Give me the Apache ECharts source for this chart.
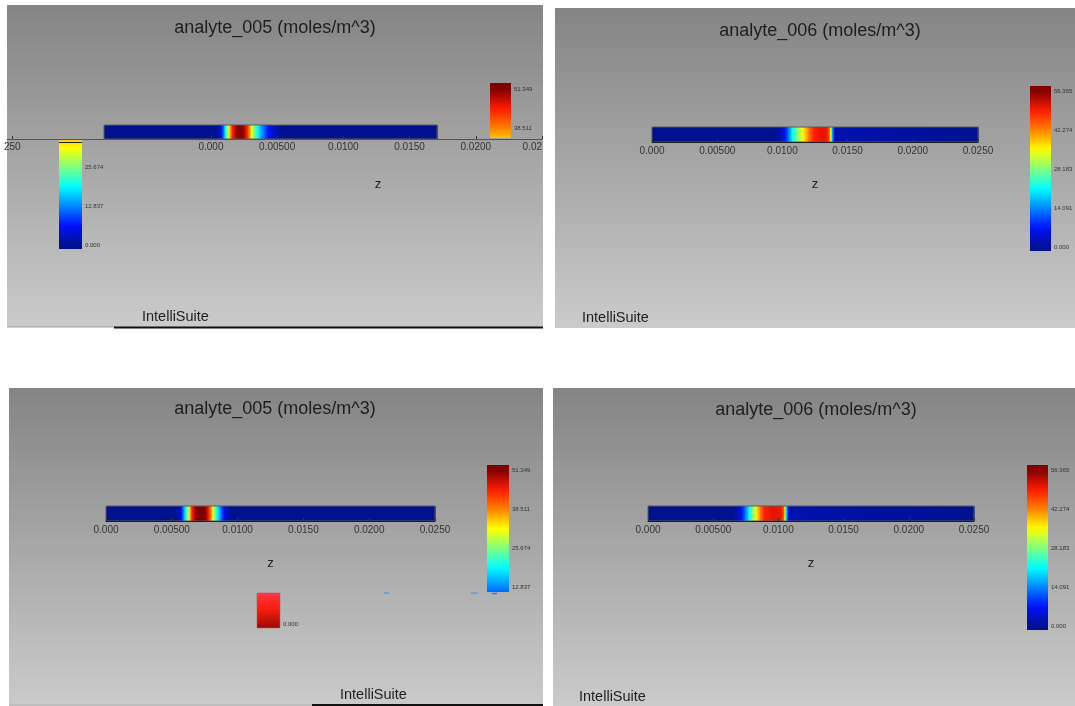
<!DOCTYPE html>
<html><head><meta charset="utf-8">
<script src="https://cdn.jsdelivr.net/npm/echarts@6/dist/echarts.min.js"></script>
<style>html,body{margin:0;padding:0;background:#fff}#c{width:1075px;height:706px}</style>
</head><body><div id="c"></div>
<script>
// ---------- text ----------
const titles = ['analyte_005 (moles/m^3)', 'analyte_006 (moles/m^3)', 'analyte_005 (moles/m^3)', 'analyte_006 (moles/m^3)'];
const brand = 'IntelliSuite';
const axisName = 'z';

// ---------- axis ticks ----------
const zTicks = [0, 0.005, 0.01, 0.015, 0.02, 0.025];
const zTickLabels = ['0.000', '0.00500', '0.0100', '0.0150', '0.0200', '0.0250'];
const zTicksGlitch = [-0.015, 0, 0.005, 0.01, 0.015, 0.02, 0.025];
const zTickLabelsGlitch = ['250', '0.000', '0.00500', '0.0100', '0.0150', '0.0200', '0.02'];
const scale005 = [0.000, 12.837, 25.674, 38.511, 51.349];
const scale005Labels = ['0.000', '12.837', '25.674', '38.511', '51.349'];
const scale006 = [0.000, 14.091, 28.183, 42.274, 56.365];
const scale006Labels = ['0.000', '14.091', '28.183', '42.274', '56.365'];

// ---------- concentration profiles along z (m), moles/m^3 ----------
// top-left: analyte_005
const zTL = [0, 0.0085, 0.0088, 0.0090, 0.0092, 0.0094, 0.0096, 0.0099, 0.0103, 0.0106, 0.0108, 0.0110, 0.0112, 0.0115, 0.0118, 0.0122, 0.0127, 0.0132, 0.025];
const cTL = [0, 0, 6, 14, 24, 34, 44, 50, 52, 48, 42, 34, 27, 20, 14, 8, 3, 0, 0];
// top-right: analyte_006
const zTR = [0, 0.0096, 0.0100, 0.0104, 0.0107, 0.0111, 0.0116, 0.0120, 0.0124, 0.0130, 0.0134, 0.0136, 0.0137, 0.0138, 0.0140, 0.025];
const cTR = [0, 0, 4, 12, 20, 28, 36, 43, 49, 51, 50, 44, 30, 18, 2, 0];
// bottom-left: analyte_005
const zBL = [0, 0.0054, 0.0057, 0.0059, 0.0061, 0.0063, 0.0065, 0.0068, 0.0072, 0.0076, 0.0078, 0.0080, 0.0082, 0.0084, 0.0087, 0.0090, 0.0094, 0.025];
const cBL = [0, 0, 6, 14, 22, 32, 44, 51, 53, 50, 44, 36, 28, 20, 12, 5, 0, 0];
// bottom-right: analyte_006
const zBR = [0, 0.0066, 0.0070, 0.0074, 0.0077, 0.0080, 0.0083, 0.0086, 0.0089, 0.0096, 0.0102, 0.0104, 0.0105, 0.0106, 0.0108, 0.025];
const cBR = [0, 0, 4, 12, 20, 28, 36, 43, 49, 51, 50, 44, 30, 18, 2, 0];

// ---------- styling helpers ----------
const FONT = "'Liberation Sans', Arial, sans-serif";
const JET = [[0, [0, 17, 143]], [0.125, [0, 16, 255]], [0.25, [0, 136, 255]], [0.375, [0, 255, 255]], [0.5, [128, 255, 128]], [0.625, [255, 255, 0]], [0.75, [255, 128, 0]], [0.875, [255, 26, 0]], [1, [128, 0, 0]]];
function jet(f) {
  f = Math.max(0, Math.min(1, f));
  for (let i = 1; i < JET.length; i++) {
    if (f <= JET[i][0]) {
      const a = JET[i - 1], b = JET[i], t = (f - a[0]) / (b[0] - a[0]);
      return 'rgb(' + [0, 1, 2].map(k => Math.round(a[1][k] + (b[1][k] - a[1][k]) * t)).join(',') + ')';
    }
  }
  return 'rgb(128,0,0)';
}
function labelFor(ticks, labels) {
  return function (v) {
    let best = 0;
    for (let i = 1; i < ticks.length; i++) if (Math.abs(ticks[i] - v) < Math.abs(ticks[best] - v)) best = i;
    return labels[best];
  };
}
function bgFill() {
  const stops = [], N = 40;
  for (let k = 0; k < N; k++) {
    const g = Math.round(133 + (202 - 133) * k / (N - 1));
    const col = 'rgb(' + g + ',' + g + ',' + g + ')';
    stops.push({ offset: k / N, color: col });
    stops.push({ offset: Math.min(1, (k + 1) / N - 0.0005), color: col });
  }
  return new echarts.graphic.LinearGradient(0, 0, 0, 1, stops);
}

// ---------- series builders ----------
function stripSeries(axisIdx, z, c, vmax) {
  const data = [];
  for (let i = 0; i < z.length - 1; i++) data.push([z[i], z[i + 1], c[i], c[i + 1]]);
  return {
    type: 'custom', xAxisIndex: axisIdx, yAxisIndex: axisIdx, data, clip: false, z: 3,
    encode: { x: [0, 1] },
    renderItem(params, api) {
      const z0 = api.value(0), z1 = api.value(1), c0 = api.value(2), c1 = api.value(3);
      const p0 = api.coord([z0, 0]), p1 = api.coord([z1, 1]);
      const stops = [];
      for (let k = 0; k <= 10; k++) { const t = k / 10; stops.push({ offset: t, color: jet((c0 + (c1 - c0) * t) / vmax) }); }
      return {
        type: 'rect',
        shape: { x: p0[0], y: p1[1], width: p1[0] - p0[0] + 0.7, height: p0[1] - p1[1] },
        style: { fill: new echarts.graphic.LinearGradient(0, 0, 1, 0, stops) }
      };
    }
  };
}
function outlineSeries(axisIdx) {
  return {
    type: 'custom', xAxisIndex: axisIdx, yAxisIndex: axisIdx, data: [[0, 0.025]], clip: false, z: 4,
    encode: { x: [0, 1] },
    renderItem(params, api) {
      const p0 = api.coord([api.value(0), 0]), p1 = api.coord([api.value(1), 1]);
      return {
        type: 'rect',
        shape: { x: p0[0], y: p1[1], width: p1[0] - p0[0], height: p0[1] - p1[1] },
        style: { fill: 'none', stroke: '#5a5a5a', lineWidth: 1 }
      };
    }
  };
}
function barSeries(axisIdx, lo, hi, vmax) {
  return {
    type: 'custom', xAxisIndex: axisIdx, yAxisIndex: axisIdx, data: [[lo, hi]], clip: false, z: 3,
    encode: { y: [0, 1] },
    renderItem(params, api) {
      const a = api.value(0), b = api.value(1);
      const pTop = api.coord([0, b]), pBot = api.coord([1, a]);
      const stops = [];
      for (let k = 0; k <= 24; k++) { const t = k / 24; stops.push({ offset: t, color: jet((b - (b - a) * t) / vmax) }); }
      return {
        type: 'rect',
        shape: { x: pTop[0], y: pTop[1], width: pBot[0] - pTop[0], height: pBot[1] - pTop[1] },
        style: { fill: new echarts.graphic.LinearGradient(0, 0, 0, 1, stops) }
      };
    }
  };
}
function redPieceSeries(axisIdx, lo, hi) {
  return {
    type: 'custom', xAxisIndex: axisIdx, yAxisIndex: axisIdx, data: [[lo, hi]], clip: false, z: 3,
    encode: { y: [0, 1] },
    renderItem(params, api) {
      const pTop = api.coord([0, api.value(1)]), pBot = api.coord([1, api.value(0)]);
      return {
        type: 'rect',
        shape: { x: pTop[0], y: pTop[1], width: pBot[0] - pTop[0], height: pBot[1] - pTop[1] },
        style: {
          fill: new echarts.graphic.LinearGradient(0, 0, 0, 1, [
            { offset: 0, color: '#ff3560' }, { offset: 0.12, color: '#ff3030' }, { offset: 0.45, color: '#f52010' },
            { offset: 0.8, color: '#c01008' }, { offset: 1, color: '#980808' }]),
          stroke: '#c05050', lineWidth: 0.5
        }
      };
    }
  };
}

// ---------- layout ----------
const grids = [
  { left: 104, top: 125, width: 333, height: 14 },   // 0 TL strip
  { left: 7, top: 130, width: 535, height: 9 },      // 1 TL glitched axis
  { left: 490, top: 83, width: 21, height: 55 },     // 2 TL upper bar piece
  { left: 59, top: 140, width: 23, height: 109 },    // 3 TL lower bar piece
  { left: 652, top: 127, width: 326, height: 15 },   // 4 TR strip
  { left: 1030, top: 86, width: 21, height: 165 },   // 5 TR bar
  { left: 106, top: 506, width: 329, height: 15 },   // 6 BL strip
  { left: 487, top: 465, width: 22, height: 127 },   // 7 BL bar
  { left: 257, top: 593, width: 23, height: 35 },    // 8 BL red piece
  { left: 648, top: 506, width: 326, height: 15 },   // 9 BR strip
  { left: 1027, top: 465, width: 21, height: 165 }   // 10 BR bar
].map(g => Object.assign({ outerBoundsMode: 'none', containLabel: false, show: false }, g));

const hidden = { show: false };
function stripX(idx, showIt) {
  return {
    gridIndex: idx, type: 'value', min: 0, max: 0.025, interval: 0.005, show: showIt, z: 5,
    name: axisName, nameLocation: 'middle', nameGap: 36,
    nameTextStyle: { fontSize: 13, color: '#222', fontFamily: FONT },
    axisLine: { show: true, lineStyle: { color: '#1e1e1e', width: 1 } },
    axisTick: { show: true, inside: true, length: 3, lineStyle: { color: '#333' } },
    axisLabel: { show: true, margin: 4, fontSize: 10, color: '#333', fontFamily: FONT, formatter: labelFor(zTicks, zTickLabels), showMinLabel: true, showMaxLabel: true },
    splitLine: hidden
  };
}
function barY(idx, min, max, ticks, labels) {
  return {
    gridIndex: idx, type: 'value', min, max, position: 'right', z: 5,
    axisLine: hidden, axisTick: hidden, splitLine: hidden,
    axisLabel: { show: true, customValues: ticks, margin: 3, fontSize: 6, color: '#333', fontFamily: FONT, formatter: labelFor(ticks, labels) }
  };
}
const unitX = idx => ({ gridIndex: idx, type: 'value', min: 0, max: 1, show: false });
const unitY = idx => ({ gridIndex: idx, type: 'value', min: 0, max: 1, show: false });

const xAxes = [
  stripX(0, false),
  {
    gridIndex: 1, type: 'value', min: -0.0154, max: 0.025, z: 5,
    axisLine: { show: true, lineStyle: { color: '#4a5278', width: 1 } },
    axisTick: { show: true, inside: true, length: 3, customValues: zTicksGlitch, lineStyle: { color: '#333' } },
    axisLabel: { show: true, customValues: zTicksGlitch, margin: 3, fontSize: 10, color: '#333', fontFamily: FONT, alignMaxLabel: 'right', formatter: labelFor(zTicksGlitch, zTickLabelsGlitch) },
    splitLine: hidden
  },
  unitX(2), unitX(3),
  stripX(4, true), unitX(5),
  stripX(6, true), unitX(7), unitX(8),
  stripX(9, true), unitX(10)
];
const yAxes = [
  unitY(0), unitY(1),
  barY(2, 35.22, 53.33, [38.511, 51.349], ['38.511', '51.349']),
  barY(3, -1.317, 34.56, [0, 12.837, 25.674], ['0.000', '12.837', '25.674']),
  unitY(4),
  barY(5, -1.445, 58.17, scale006, scale006Labels),
  unitY(6),
  barY(7, 11.19, 52.995, [12.837, 25.674, 38.511, 51.349], ['12.837', '25.674', '38.511', '51.349']),
  barY(8, -4, 31, [0], ['0.000']),
  unitY(9),
  barY(10, -1.445, 58.17, scale006, scale006Labels)
];

const vmax005 = scale005[scale005.length - 1];
const vmax006 = scale006[scale006.length - 1];
const series = [
  stripSeries(0, zTL, cTL, vmax005), outlineSeries(0),
  barSeries(2, 35.22, 53.33, vmax005),
  barSeries(3, -1.317, 34.56, vmax005),
  stripSeries(4, zTR, cTR, vmax006), outlineSeries(4),
  barSeries(5, -1.445, 58.17, vmax006),
  stripSeries(6, zBL, cBL, vmax005), outlineSeries(6),
  barSeries(7, 11.19, 52.995, vmax005),
  redPieceSeries(8, -4, 31),
  stripSeries(9, zBR, cBR, vmax006), outlineSeries(9),
  barSeries(10, -1.445, 58.17, vmax006)
];

const titleOpts = [[275, 19], [820, 22], [275, 400], [816, 401]].map((p, i) => ({
  text: titles[i], left: p[0], top: p[1], textAlign: 'center', padding: 0,
  textStyle: { fontSize: 18, fontWeight: 'normal', color: '#1e1e1e', fontFamily: FONT }
}));

function txt(x, y, text, size, align) {
  return { type: 'text', x, y, z: 50, style: { text, fill: '#1e1e1e', font: size + 'px ' + FONT, textAlign: align, align: align, textVerticalAlign: 'middle', verticalAlign: 'middle' } };
}
function bg(x, y, w, h) { return { type: 'rect', z: -100, shape: { x, y, width: w, height: h }, style: { fill: bgFill() } }; }
function ln(x1, y1, x2, y2, color, w) { return { type: 'line', z: 60, shape: { x1, y1, x2, y2 }, style: { stroke: color, lineWidth: w } }; }

const graphics = [
  bg(7, 5, 536, 322), bg(555, 8, 520, 320), bg(9, 388, 534, 318), bg(553, 388, 522, 318),
  ln(7, 327, 114, 327, '#a0a0a0', 1), ln(114, 327.5, 543, 327.5, '#111', 2),
  ln(9, 705, 312, 705, '#b0b0b0', 1), ln(312, 705, 543, 705, '#111', 2),
  ln(59, 142.5, 82, 142.5, '#222', 1),
  ln(384, 593, 389, 593, '#3a8cff', 1), ln(471, 593, 478, 593, '#3a8cff', 1), ln(492, 593.5, 497, 593.5, '#1a7cff', 1.5),
  txt(378, 184, axisName, 13, 'center'),
  txt(142, 317, brand, 14.5, 'left'), txt(582, 318, brand, 14.5, 'left'),
  txt(340, 695, brand, 14.5, 'left'), txt(579, 697, brand, 14.5, 'left')
];

const chart = echarts.init(document.getElementById('c'), null, { renderer: 'canvas' });
chart.setOption({
  backgroundColor: '#ffffff',
  animation: false,
  title: titleOpts,
  grid: grids,
  xAxis: xAxes,
  yAxis: yAxes,
  series,
  graphic: { elements: graphics }
});
</script></body></html>
